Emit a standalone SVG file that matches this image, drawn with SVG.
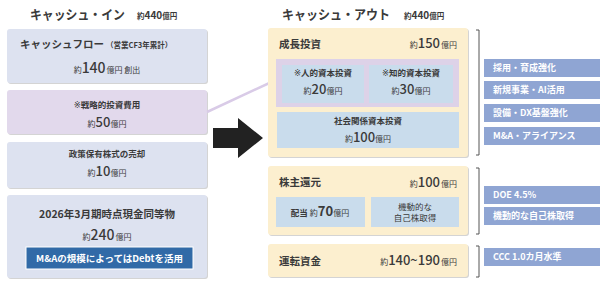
<svg xmlns="http://www.w3.org/2000/svg" width="600" height="283" viewBox="0 0 600 283">
<defs>
<style>
text{font-family:"Noto Sans CJK JP","Noto Sans",sans-serif;fill:#3a3a3a}
.b{font-weight:bold}
.km{font-family:"DejaVu Sans","Noto Sans CJK JP",sans-serif;font-weight:normal}
.sh{fill:#d4d4d4}
.blu{fill:#dde2f0}
.lav{fill:#e2d9ec}
.yel{fill:#fcefcf}
.cell{fill:#c9dcec}
.ilav{fill:#ddd2e8}
.tag{fill:#8fa5d3}
.tagt{fill:#ffffff;font-weight:bold;font-size:9px}
.br{fill:none;stroke:#555;stroke-width:1}
</style>
</defs>

<g id="titles">
<text x="30" y="19" class="b" font-size="13" textLength="95" lengthAdjust="spacingAndGlyphs">キャッシュ・イン</text>
<text x="137" y="19" class="b" font-size="10"><tspan font-size="7.5">約</tspan>440<tspan font-size="7.5">億円</tspan></text>
<text x="282" y="19" class="b" font-size="13" textLength="108" lengthAdjust="spacingAndGlyphs">キャッシュ・アウト</text>
<text x="404" y="19" class="b" font-size="10"><tspan font-size="7.5">約</tspan>440<tspan font-size="7.5">億円</tspan></text>
</g>

<g id="cf">
<rect x="8" y="30" width="200" height="54" rx="3" class="sh"/>
<rect x="7" y="29" width="200" height="54" rx="3" class="blu"/>
<text x="20" y="48" class="b" font-size="10.5">キャッシュフロー<tspan font-size="7.5" dx="2">（営業CF3年累計）</tspan></text>
<text x="107" y="73" text-anchor="middle" font-size="8">約<tspan font-size="14" font-weight="500">140</tspan><tspan dx="1">億円 創出</tspan></text>
</g>

<g id="strategic">
<rect x="8" y="91" width="200" height="44" rx="3" class="sh"/>
<rect x="7" y="90" width="200" height="44" rx="3" class="lav"/>
<text x="107" y="108" text-anchor="middle" class="b" font-size="8.5"><tspan class="km">※</tspan>戦略的投資費用</text>
<text x="107" y="127" text-anchor="middle" font-size="8">約<tspan font-size="13" font-weight="500">50</tspan>億円</text>
</g>

<g id="sale">
<rect x="8" y="143" width="200" height="46" rx="3" class="sh"/>
<rect x="7" y="142" width="200" height="46" rx="3" class="blu"/>
<text x="107" y="157" text-anchor="middle" class="b" font-size="8.5">政策保有株式の売却</text>
<text x="107" y="176" text-anchor="middle" font-size="8">約<tspan font-size="13" font-weight="500">10</tspan>億円</text>
</g>

<g id="cash">
<rect x="8" y="196" width="200" height="83" rx="3" class="sh"/>
<rect x="7" y="195" width="200" height="83" rx="3" class="blu"/>
<text x="107" y="218" text-anchor="middle" class="b" font-size="10.5">2026年3月期時点現金同等物</text>
<text x="107" y="240" text-anchor="middle" font-size="8">約<tspan font-size="14" font-weight="500">240</tspan><tspan dx="1">億円</tspan></text>
<rect x="26" y="247" width="167" height="22" fill="#316aa7" stroke="#ffffff" stroke-width="1"/>
<text x="109.5" y="261.5" text-anchor="middle" class="b" font-size="9.5" style="fill:#ffffff">M&amp;Aの規模によってはDebtを活用</text>
</g>

<g id="connectors">
<line x1="207" y1="112" x2="278" y2="79" stroke="#d9cbe7" stroke-width="2.5"/>
<polygon points="213,128 238,128 238,118 263,138 238,158 238,148 213,148" fill="#222222"/>
</g>

<g id="growth">
<rect x="269" y="29" width="200" height="129" rx="3" class="sh"/>
<rect x="268" y="28" width="200" height="129" rx="3" class="yel"/>
<text x="279" y="48" class="b" font-size="10.5">成長投資</text>
<text x="457" y="48" text-anchor="end" font-size="8">約<tspan font-size="13" font-weight="500">150</tspan><tspan dx="1">億円</tspan></text>
<rect x="276" y="59" width="183" height="48" class="ilav"/>
<rect x="282" y="65" width="82" height="38" class="cell"/>
<rect x="369" y="65" width="84" height="38" class="cell"/>
<text x="323" y="76" text-anchor="middle" class="b" font-size="8.5"><tspan class="km">※</tspan>人的資本投資</text>
<text x="323" y="94" text-anchor="middle" font-size="8">約<tspan font-size="13" font-weight="500">20</tspan>億円</text>
<text x="411" y="76" text-anchor="middle" class="b" font-size="8.5"><tspan class="km">※</tspan>知的資本投資</text>
<text x="411" y="94" text-anchor="middle" font-size="8">約<tspan font-size="13" font-weight="500">30</tspan>億円</text>
<rect x="277" y="112" width="182" height="36" class="cell"/>
<text x="368" y="124" text-anchor="middle" class="b" font-size="8.5">社会関係資本投資</text>
<text x="368" y="142" text-anchor="middle" font-size="8">約<tspan font-size="13" font-weight="500">100</tspan>億円</text>
</g>

<g id="shareholder">
<rect x="269" y="167" width="200" height="69" rx="3" class="sh"/>
<rect x="268" y="166" width="200" height="69" rx="3" class="yel"/>
<text x="279" y="186" class="b" font-size="10.5">株主還元</text>
<text x="457" y="187" text-anchor="end" font-size="8">約<tspan font-size="13" font-weight="500">100</tspan><tspan dx="1">億円</tspan></text>
<rect x="276" y="197" width="89" height="30" class="cell"/>
<rect x="371" y="197" width="88" height="30" class="cell"/>
<text x="320" y="216" text-anchor="middle" class="b" font-size="8.5">配当 <tspan font-weight="normal" font-size="8">約</tspan><tspan font-size="13">70</tspan><tspan font-weight="normal" font-size="8">億円</tspan></text>
<text x="415" y="210" text-anchor="middle" font-size="8.5">機動的な</text>
<text x="415" y="221" text-anchor="middle" font-size="8.5">自己株取得</text>
</g>

<g id="working">
<rect x="269" y="245" width="200" height="33" rx="3" class="sh"/>
<rect x="268" y="244" width="200" height="33" rx="3" class="yel"/>
<text x="279" y="265" class="b" font-size="10.5">運転資金</text>
<text x="457" y="265" text-anchor="end" font-size="8">約<tspan font-size="13" font-weight="500">140~190</tspan><tspan dx="1">億円</tspan></text>
</g>

<g id="brackets">
<polyline class="br" points="476,30 479,30 479,155 476,155"/>
<polyline class="br" points="476,168 479,168 479,234 476,234"/>
<polyline class="br" points="476,246 479,246 479,277 476,277"/>
</g>

<g id="tags">
<rect x="484" y="59" width="116" height="18" class="tag"/>
<text x="493" y="71" class="tagt">採用・育成強化</text>
<rect x="484" y="81" width="116" height="18" class="tag"/>
<text x="493" y="93" class="tagt">新規事業・AI活用</text>
<rect x="484" y="104" width="116" height="18" class="tag"/>
<text x="493" y="116" class="tagt">設備・DX基盤強化</text>
<rect x="484" y="127" width="116" height="18" class="tag"/>
<text x="493" y="139" class="tagt">M&amp;A・アライアンス</text>
<rect x="484" y="186" width="116" height="18" class="tag"/>
<text x="493" y="198" class="tagt">DOE 4.5%</text>
<rect x="484" y="207" width="116" height="18" class="tag"/>
<text x="493" y="219" class="tagt">機動的な自己株取得</text>
<rect x="484" y="248" width="116" height="18" class="tag"/>
<text x="493" y="260" class="tagt">CCC 1.0カ月水準</text>
</g>
</svg>
